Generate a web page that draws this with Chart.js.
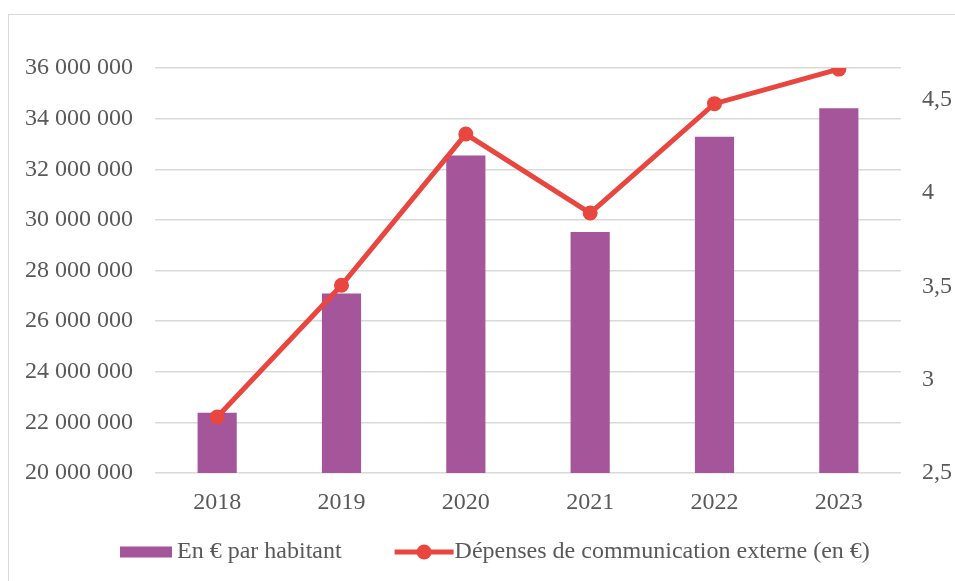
<!DOCTYPE html>
<html lang="fr">
<head>
<meta charset="utf-8">
<title>Dépenses de communication externe</title>
<script src="https://cdn.jsdelivr.net/npm/chart.js@4.4.1/dist/chart.umd.min.js"></script>
<style>
  html, body { margin: 0; padding: 0; background: #fff; overflow: hidden; }
  .wrap { position: relative; width: 955px; height: 581px; }
  .frame { position: absolute; left: 8px; top: 14px; width: 1000px; height: 1000px; border: 1px solid #d9d9d9; }
  canvas { position: absolute; left: 0; top: 0; }
</style>
</head>
<body>
<div class="wrap">
  <div class="frame"></div>
  <canvas id="chart" width="955" height="581"></canvas>
</div>
<script>
// data
const years = ['2018', '2019', '2020', '2021', '2022', '2023'];
const barValues = [22380000, 27090000, 32540000, 29520000, 33280000, 34410000];
const lineValues = [2.80, 3.506, 4.316, 3.893, 4.479, 4.664];
const barLabel = 'En € par habitant';
const lineLabel = 'Dépenses de communication externe (en €)';
const leftTicks = [20000000, 22000000, 24000000, 26000000, 28000000, 30000000, 32000000, 34000000, 36000000];
const rightTicks = [2.5, 3, 3.5, 4, 4.5];

const FONT = '"Liberation Serif", "Times New Roman", serif';
const TEXT = '#595959';
const PURPLE = '#a5559a';
const RED = '#e8463e';

const fmtSpaces = v => String(v).replace(/\B(?=(\d{3})+(?!\d))/g, ' ');

// legend drawn under the plot, markers like the office legend
const bottomLegend = {
  id: 'bottomLegend',
  afterDraw(chart) {
    const ctx = chart.ctx;
    const y = 552;
    let x = 120;
    ctx.save();
    ctx.font = '24px ' + FONT;
    ctx.textBaseline = 'middle';
    chart.data.datasets.forEach(ds => {
      if (ds.type === 'bar') {
        ctx.fillStyle = ds.backgroundColor;
        ctx.fillRect(x, y - 5.5, 52, 11);
        x += 57;
      } else {
        ctx.strokeStyle = ds.borderColor;
        ctx.lineWidth = 5;
        ctx.beginPath();
        ctx.moveTo(x, y);
        ctx.lineTo(x + 59, y);
        ctx.stroke();
        ctx.fillStyle = ds.borderColor;
        ctx.beginPath();
        ctx.arc(x + 29.5, y, 7.5, 0, Math.PI * 2);
        ctx.fill();
        x += 60;
      }
      ctx.fillStyle = TEXT;
      ctx.fillText(ds.label, x, y);
      x += ctx.measureText(ds.label).width + 53;
    });
    ctx.restore();
  }
};

const ctx = document.getElementById('chart').getContext('2d');
new Chart(ctx, {
  data: {
    labels: years,
    datasets: [
      {
        type: 'bar',
        label: barLabel,
        data: barValues,
        yAxisID: 'y',
        backgroundColor: PURPLE,
        barPercentage: 0.315,
        categoryPercentage: 1,
        order: 1,
      },
      {
        type: 'line',
        label: lineLabel,
        data: lineValues,
        yAxisID: 'y1',
        borderColor: RED,
        backgroundColor: RED,
        borderWidth: 5,
        pointRadius: 7.5,
        pointBackgroundColor: RED,
        pointBorderWidth: 0,
        tension: 0,
        order: 0,
      },
    ],
  },
  options: {
    responsive: false,
    animation: false,
    devicePixelRatio: 1,
    layout: { padding: { top: 68, left: 0, right: 0, bottom: 58 } },
    plugins: {
      legend: { display: false },
      tooltip: { enabled: false },
    },
    scales: {
      x: {
        grid: { display: false },
        border: { display: false },
        ticks: { color: TEXT, font: { family: FONT, size: 24 }, padding: 7 },
        afterFit: s => { s.height = 50; },
      },
      y: {
        position: 'left',
        min: 20000000,
        max: 36000000,
        afterBuildTicks: s => { s.ticks = leftTicks.map(v => ({ value: v })); },
        grid: { color: '#d9d9d9', lineWidth: 1.5, drawTicks: false },
        border: { display: false },
        ticks: {
          color: TEXT,
          font: { family: FONT, size: 24 },
          padding: 22,
          callback: v => fmtSpaces(v),
        },
        afterFit: s => { s.width = 155; },
      },
      y1: {
        position: 'right',
        min: 2.5,
        max: 4.67,
        afterBuildTicks: s => { s.ticks = rightTicks.map(v => ({ value: v })); },
        grid: { display: false, drawTicks: false },
        border: { display: false },
        ticks: {
          color: TEXT,
          font: { family: FONT, size: 24 },
          padding: 21,
          callback: v => String(v).replace('.', ','),
        },
        afterFit: s => { s.width = 54; },
      },
    },
  },
  plugins: [bottomLegend],
});
</script>
</body>
</html>
